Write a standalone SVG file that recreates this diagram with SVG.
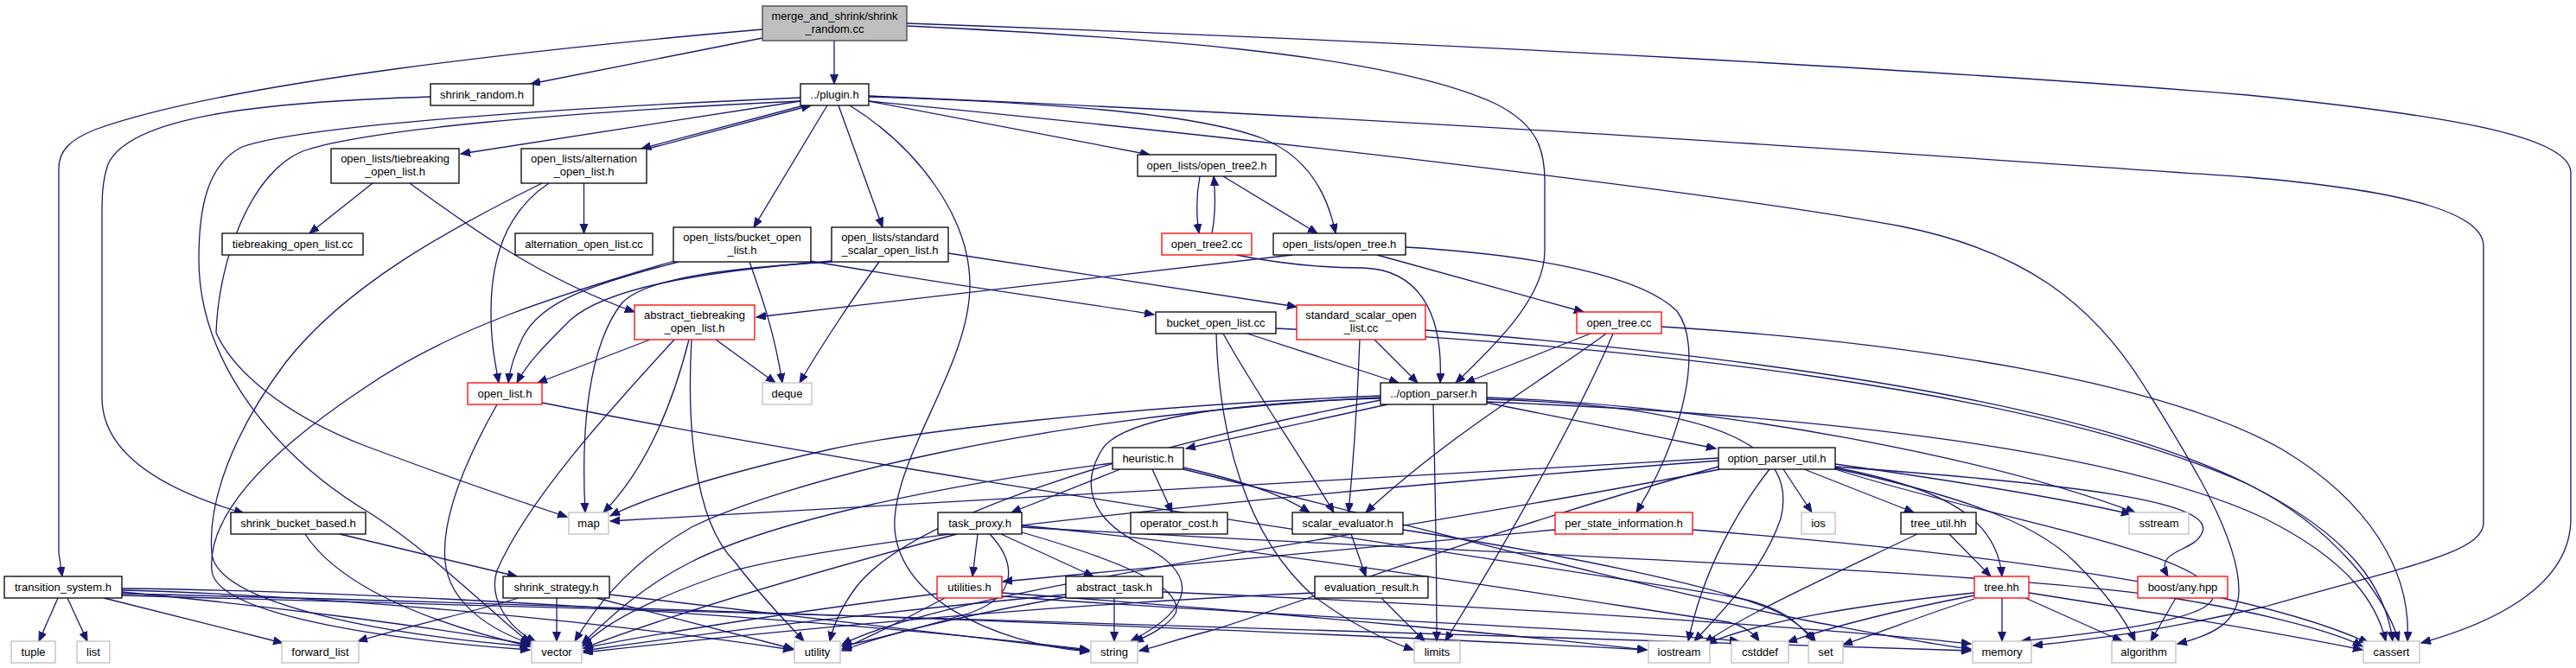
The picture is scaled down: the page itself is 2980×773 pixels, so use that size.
<svg xmlns="http://www.w3.org/2000/svg" width="2980" height="773" viewBox="0 0 2980 773">
<style>
.e{fill:none;stroke:#191970;stroke-width:1.3;marker-end:url(#a)}
.n rect{fill:#fff;stroke:#000;stroke-width:1.3}
.g rect{fill:#fff;stroke:#bfbfbf;stroke-width:1.3}
.r rect{fill:#fff;stroke:#ff0000;stroke-width:1.3}
.root rect{fill:#bfbfbf;stroke:#404040;stroke-width:1.3}
text{font-family:"Liberation Sans",Arial,sans-serif;font-size:13px;text-anchor:middle;fill:#000}
</style>
<defs>
<marker id="a" markerWidth="12" markerHeight="10" refX="11" refY="4.5" orient="auto" markerUnits="userSpaceOnUse"><path d="M0,0L11,4.5L0,9z" fill="#191970" stroke="#191970" stroke-width="1"/></marker>
</defs>
<rect width="2980" height="773" fill="#fff"/>
<g id="edges">
<path class="e" d="M965,47V97"/>
<path class="e" d="M882,44L614,97"/>
<path class="e" d="M882,34C640,55 260,95 110,150C80,162 68,175 68,195V640L72,667"/>
<path class="e" d="M1049,30C1300,42 1600,60 1730,120C1780,145 1787,175 1787,210V290C1787,340 1740,390 1684,443"/>
<path class="e" d="M1049,27C1700,50 2300,85 2600,110C2850,135 2974,160 2974,200V600C2974,680 2880,722 2801,744"/>
<path class="e" d="M498,112C300,118 150,135 125,190C118,210 118,230 118,250V460C118,530 200,570 282,594"/>
<path class="e" d="M926,117L533,178"/>
<path class="e" d="M930,122L742,172"/>
<path class="e" d="M750,172L938,122"/>
<path class="e" d="M957,122L872,263"/>
<path class="e" d="M970,122L1021,263"/>
<path class="e" d="M1005,117L1330,179"/>
<path class="e" d="M1005,112C1200,118 1380,130 1460,160C1510,180 1535,220 1545,270"/>
<path class="e" d="M926,113C650,125 350,145 280,170C240,190 230,240 230,300C230,420 320,530 430,595C500,640 570,710 613,744"/>
<path class="e" d="M926,117C650,130 420,150 350,175C290,200 253,300 250,385C270,430 330,480 420,515C500,545 600,580 656,598"/>
<path class="e" d="M983,122C1060,170 1122,250 1122,330C1122,420 1040,520 1035,600C1030,690 1150,745 1260,754"/>
<path class="e" d="M1005,111C1700,140 2300,185 2600,205C2800,222 2873,250 2873,285V605C2873,640 2780,656 2620,702C2500,730 2420,740 2352,747"/>
<path class="e" d="M1005,117C1500,165 2000,225 2200,262C2340,290 2420,350 2480,446C2530,526 2590,620 2590,683C2590,720 2560,735 2519,745"/>
<path class="e" d="M431,212L358,270"/>
<path class="e" d="M474,212C540,260 620,320 734,361"/>
<path class="e" d="M675.5,212V270"/>
<path class="e" d="M635,212C585,245 568,300 568,360C568,400 573,420 577,443"/>
<path class="e" d="M627,212C520,265 400,330 330,420C270,500 240,580 245,640C250,700 450,735 613,748"/>
<path class="e" d="M937,302C1100,330 1250,350 1335,364"/>
<path class="e" d="M780,302C650,340 520,380 420,450C300,530 240,600 245,660C250,715 470,742 613,752"/>
<path class="e" d="M785,303C680,330 625,350 605,390C595,410 590,425 588,443"/>
<path class="e" d="M867,303C880,340 895,380 905,443"/>
<path class="e" d="M1097,293L1500,355"/>
<path class="e" d="M962,302C800,315 700,335 660,370C630,400 610,420 598,443"/>
<path class="e" d="M962,303C850,310 750,320 720,350C680,400 672,500 677,593"/>
<path class="e" d="M1017,303C990,340 950,400 925,443"/>
<path class="e" d="M1388,204C1384,225 1384,250 1387,270"/>
<path class="e" d="M1402,270C1406,250 1406,225 1404,204"/>
<path class="e" d="M1415,204L1524,270"/>
<path class="e" d="M1430,295C1480,305 1530,310 1577,310C1640,312 1670,360 1666,443"/>
<path class="e" d="M1593,295L1832,361"/>
<path class="e" d="M1495,295L875,367"/>
<path class="e" d="M1626,286C1780,295 1900,320 1940,360C1970,400 1950,500 1893,593"/>
<path class="e" d="M752,393L622,443"/>
<path class="e" d="M780,393C700,480 610,580 575,660C565,690 585,725 620,743"/>
<path class="e" d="M797,393C780,460 750,540 698,593"/>
<path class="e" d="M800,393C795,480 800,600 850,650C880,690 910,720 930,742"/>
<path class="e" d="M828,393L897,443"/>
<path class="e" d="M1590,393L1640,443"/>
<path class="e" d="M1573,393C1570,480 1565,540 1560,593"/>
<path class="e" d="M1649,382C2000,410 2400,460 2600,560C2720,620 2760,680 2768,742"/>
<path class="e" d="M1443,386L1618,443"/>
<path class="e" d="M1415,386C1450,450 1500,520 1543,593"/>
<path class="e" d="M1407,386C1410,500 1440,620 1520,690C1560,720 1600,740 1635,752"/>
<path class="e" d="M1476,380C1900,400 2350,450 2600,560C2700,610 2760,690 2775,742"/>
<path class="e" d="M1840,386L1695,443"/>
<path class="e" d="M1858,386C1800,430 1680,500 1580,593"/>
<path class="e" d="M1866,386C1830,470 1760,600 1672,742"/>
<path class="e" d="M1922,378C2200,395 2500,440 2640,520C2740,580 2790,660 2785,742"/>
<path class="e" d="M575,468C540,530 510,600 515,650C520,700 570,730 614,745"/>
<path class="e" d="M627,466C1100,560 1700,640 2000,690C2060,700 2080,720 2098,742"/>
<path class="e" d="M1605,468L1372,519"/>
<path class="e" d="M1720,466L1985,519"/>
<path class="e" d="M1658,468C1660,550 1662,650 1662,742"/>
<path class="e" d="M1597,458C1300,470 1050,500 960,520C850,545 760,570 706,597"/>
<path class="e" d="M1597,460C1200,480 900,560 800,610C730,650 690,700 665,742"/>
<path class="e" d="M1597,461C1450,465 1300,480 1275,520C1250,560 1260,600 1320,630C1390,665 1380,705 1308,742"/>
<path class="e" d="M1720,462C2000,470 2080,520 2060,600C2040,660 1990,710 1960,742"/>
<path class="e" d="M1720,460C2000,470 2300,530 2470,593"/>
<path class="e" d="M1720,465C2100,480 2450,520 2620,600C2720,650 2750,700 2760,742"/>
<path class="e" d="M1597,463C1300,520 1050,600 990,680C975,700 965,720 960,742"/>
<path class="e" d="M1296,543L1170,593"/>
<path class="e" d="M1333,543L1356,593"/>
<path class="e" d="M1369,541C1430,555 1480,570 1515,593"/>
<path class="e" d="M1287,536C1100,560 900,600 800,650C740,680 700,720 673,745"/>
<path class="e" d="M1369,543C1600,600 1900,680 2100,720C2180,735 2230,745 2280,751"/>
<path class="e" d="M2047,543C2010,590 1970,660 1953,742"/>
<path class="e" d="M2063,543L2096,593"/>
<path class="e" d="M2087,543L2214,593"/>
<path class="e" d="M2123,537C2250,555 2380,575 2465,595"/>
<path class="e" d="M2123,541C2250,565 2310,600 2316,667"/>
<path class="e" d="M2123,542C2250,570 2350,600 2400,650C2440,690 2460,720 2470,742"/>
<path class="e" d="M2123,540C2400,560 2560,580 2548,615C2540,640 2490,635 2508,667"/>
<path class="e" d="M1988,530C1500,560 1000,590 706,603"/>
<path class="e" d="M1988,533C1500,570 1000,620 850,660C760,690 700,720 674,748"/>
<path class="e" d="M1988,540C1700,620 1500,700 1400,730C1360,740 1340,748 1318,753"/>
<path class="e" d="M1990,543C1600,620 1100,680 974,746"/>
<path class="e" d="M2123,543C2300,600 2560,640 2560,690C2560,720 2400,735 2338,742"/>
<path class="e" d="M393,618L598,667"/>
<path class="e" d="M353,618C380,660 450,710 613,748"/>
<path class="e" d="M1131,618L1125,667"/>
<path class="e" d="M1158,618L1265,667"/>
<path class="e" d="M1107,618C950,660 780,710 675,750"/>
<path class="e" d="M1182,616C1300,650 1370,680 1360,710C1350,725 1330,735 1312,743"/>
<path class="e" d="M1145,618C1175,650 1180,690 1120,710C1060,728 1010,740 974,748"/>
<path class="e" d="M1182,608C1500,640 1800,690 2000,720C2020,725 2030,735 2035,742"/>
<path class="e" d="M1182,610C1700,640 2300,660 2500,690C2600,705 2700,730 2733,748"/>
<path class="e" d="M1563,618L1580,667"/>
<path class="e" d="M1623,613C1800,640 2000,680 2060,710C2085,725 2095,735 2100,742"/>
<path class="e" d="M1799,613C1500,640 1300,660 1160,673"/>
<path class="e" d="M1958,613C2300,640 2600,680 2740,744"/>
<path class="e" d="M2255,618L2303,667"/>
<path class="e" d="M2218,618C2120,665 2020,710 1972,744"/>
<path class="e" d="M67,692L45,742"/>
<path class="e" d="M78,692L101,742"/>
<path class="e" d="M120,692L327,744"/>
<path class="e" d="M141,685C300,700 500,725 613,746"/>
<path class="e" d="M141,683C400,690 700,720 917,752"/>
<path class="e" d="M141,681C500,685 1000,720 1260,752"/>
<path class="e" d="M141,687C700,700 1500,730 1905,752"/>
<path class="e" d="M141,689C800,705 1700,735 2280,753"/>
<path class="e" d="M644,692V742"/>
<path class="e" d="M690,692L918,751"/>
<path class="e" d="M705,688C900,710 1100,735 1260,753"/>
<path class="e" d="M600,692C540,710 470,725 414,742"/>
<path class="e" d="M1084,687C900,710 750,735 675,750"/>
<path class="e" d="M1093,692C1050,715 1010,735 974,751"/>
<path class="e" d="M1159,686C1500,710 1800,740 1905,752"/>
<path class="e" d="M1159,690C1500,715 1900,730 2012,742"/>
<path class="e" d="M1289,692V742"/>
<path class="e" d="M1233,688C1000,710 800,735 675,753"/>
<path class="e" d="M1233,691C1100,715 1020,735 974,753"/>
<path class="e" d="M1345,685C1700,700 2100,725 2280,745"/>
<path class="e" d="M1598,692L1648,742"/>
<path class="e" d="M1521,686C1200,700 900,730 675,755"/>
<path class="e" d="M2316,692V742"/>
<path class="e" d="M2343,692L2455,742"/>
<path class="e" d="M2284,693C2230,710 2180,730 2132,746"/>
<path class="e" d="M2284,689C2200,705 2120,725 2068,743"/>
<path class="e" d="M2284,686C2150,700 2030,720 1975,745"/>
<path class="e" d="M2347,686C2500,710 2650,735 2733,752"/>
<path class="e" d="M2517,692L2488,742"/>
</g>
<g id="n0" class="root"><rect x="882" y="7" width="167" height="40"/><text x="965.5" y="23">merge_and_shrink/shrink</text><text x="965.5" y="38">_random.cc</text></g>
<g id="n1" class="n"><rect x="498" y="97" width="119" height="25"/><text x="557.5" y="114">shrink_random.h</text></g>
<g id="n2" class="n"><rect x="926" y="97" width="79" height="25"/><text x="965.5" y="114">../plugin.h</text></g>
<g id="n3" class="n"><rect x="383" y="172" width="148" height="40"/><text x="457" y="188">open_lists/tiebreaking</text><text x="457" y="203">_open_list.h</text></g>
<g id="n4" class="n"><rect x="603" y="172" width="145" height="40"/><text x="675.5" y="188">open_lists/alternation</text><text x="675.5" y="203">_open_list.h</text></g>
<g id="n5" class="n"><rect x="257" y="270" width="163" height="25"/><text x="338.5" y="287">tiebreaking_open_list.cc</text></g>
<g id="n6" class="n"><rect x="596" y="270" width="159" height="25"/><text x="675.5" y="287">alternation_open_list.cc</text></g>
<g id="n7" class="n"><rect x="779" y="263" width="159" height="40"/><text x="858.5" y="279">open_lists/bucket_open</text><text x="858.5" y="294">_list.h</text></g>
<g id="n8" class="n"><rect x="962" y="263" width="135" height="40"/><text x="1029.5" y="279">open_lists/standard</text><text x="1029.5" y="294">_scalar_open_list.h</text></g>
<g id="n9" class="n"><rect x="1316" y="179" width="160" height="25"/><text x="1396" y="196">open_lists/open_tree2.h</text></g>
<g id="n10" class="r"><rect x="1344" y="270" width="104" height="25"/><text x="1396" y="287">open_tree2.cc</text></g>
<g id="n11" class="n"><rect x="1473" y="270" width="153" height="25"/><text x="1549.5" y="287">open_lists/open_tree.h</text></g>
<g id="n12" class="r"><rect x="734" y="353" width="139" height="40"/><text x="803.5" y="369">abstract_tiebreaking</text><text x="803.5" y="384">_open_list.h</text></g>
<g id="n13" class="r"><rect x="1500" y="353" width="149" height="40"/><text x="1574.5" y="369">standard_scalar_open</text><text x="1574.5" y="384">_list.cc</text></g>
<g id="n14" class="n"><rect x="1337" y="361" width="139" height="25"/><text x="1406.5" y="378">bucket_open_list.cc</text></g>
<g id="n15" class="r"><rect x="1824" y="361" width="98" height="25"/><text x="1873" y="378">open_tree.cc</text></g>
<g id="n16" class="r"><rect x="541" y="443" width="86" height="25"/><text x="584" y="460">open_list.h</text></g>
<g id="n17" class="g"><rect x="882" y="443" width="57" height="25"/><text x="910.5" y="460">deque</text></g>
<g id="n18" class="n"><rect x="1597" y="443" width="123" height="25"/><text x="1658.5" y="460">../option_parser.h</text></g>
<g id="n19" class="g"><rect x="658" y="593" width="46" height="25"/><text x="681" y="610">map</text></g>
<g id="n20" class="n"><rect x="1287" y="518" width="82" height="25"/><text x="1328" y="535">heuristic.h</text></g>
<g id="n21" class="n"><rect x="1988" y="518" width="135" height="25"/><text x="2055.5" y="535">option_parser_util.h</text></g>
<g id="n22" class="n"><rect x="267" y="593" width="156" height="25"/><text x="345" y="610">shrink_bucket_based.h</text></g>
<g id="n23" class="n"><rect x="1085" y="593" width="97" height="25"/><text x="1133.5" y="610">task_proxy.h</text></g>
<g id="n24" class="n"><rect x="1308" y="593" width="112" height="25"/><text x="1364" y="610">operator_cost.h</text></g>
<g id="n25" class="n"><rect x="1495" y="593" width="128" height="25"/><text x="1559" y="610">scalar_evaluator.h</text></g>
<g id="n26" class="r"><rect x="1799" y="593" width="159" height="25"/><text x="1878.5" y="610">per_state_information.h</text></g>
<g id="n27" class="g"><rect x="2084" y="593" width="39" height="25"/><text x="2103.5" y="610">ios</text></g>
<g id="n28" class="n"><rect x="2199" y="593" width="87" height="25"/><text x="2242.5" y="610">tree_util.hh</text></g>
<g id="n29" class="g"><rect x="2463" y="593" width="69" height="25"/><text x="2497.5" y="610">sstream</text></g>
<g id="n30" class="n"><rect x="5" y="667" width="136" height="25"/><text x="73" y="684">transition_system.h</text></g>
<g id="n31" class="n"><rect x="582" y="667" width="123" height="25"/><text x="643.5" y="684">shrink_strategy.h</text></g>
<g id="n32" class="r"><rect x="1084" y="667" width="75" height="25"/><text x="1121.5" y="684">utilities.h</text></g>
<g id="n33" class="n"><rect x="1233" y="667" width="112" height="25"/><text x="1289" y="684">abstract_task.h</text></g>
<g id="n34" class="n"><rect x="1521" y="667" width="131" height="25"/><text x="1586.5" y="684">evaluation_result.h</text></g>
<g id="n35" class="r"><rect x="2284" y="667" width="63" height="25"/><text x="2315.5" y="684">tree.hh</text></g>
<g id="n36" class="r"><rect x="2473" y="667" width="104" height="25"/><text x="2525" y="684">boost/any.hpp</text></g>
<g id="n37" class="g"><rect x="13" y="742" width="51" height="25"/><text x="38.5" y="759">tuple</text></g>
<g id="n38" class="g"><rect x="89" y="742" width="38" height="25"/><text x="108" y="759">list</text></g>
<g id="n39" class="g"><rect x="326" y="742" width="89" height="25"/><text x="370.5" y="759">forward_list</text></g>
<g id="n40" class="g"><rect x="615" y="742" width="58" height="25"/><text x="644" y="759">vector</text></g>
<g id="n41" class="g"><rect x="919" y="742" width="53" height="25"/><text x="945.5" y="759">utility</text></g>
<g id="n42" class="g"><rect x="1262" y="742" width="54" height="25"/><text x="1289" y="759">string</text></g>
<g id="n43" class="g"><rect x="1636" y="742" width="53" height="25"/><text x="1662.5" y="759">limits</text></g>
<g id="n44" class="g"><rect x="1907" y="742" width="71" height="25"/><text x="1942.5" y="759">iostream</text></g>
<g id="n45" class="g"><rect x="2003" y="742" width="66" height="25"/><text x="2036" y="759">cstddef</text></g>
<g id="n46" class="g"><rect x="2092" y="742" width="40" height="25"/><text x="2112" y="759">set</text></g>
<g id="n47" class="g"><rect x="2282" y="742" width="68" height="25"/><text x="2316" y="759">memory</text></g>
<g id="n48" class="g"><rect x="2443" y="742" width="74" height="25"/><text x="2480" y="759">algorithm</text></g>
<g id="n49" class="g"><rect x="2734" y="742" width="65" height="25"/><text x="2766.5" y="759">cassert</text></g>
</svg>
